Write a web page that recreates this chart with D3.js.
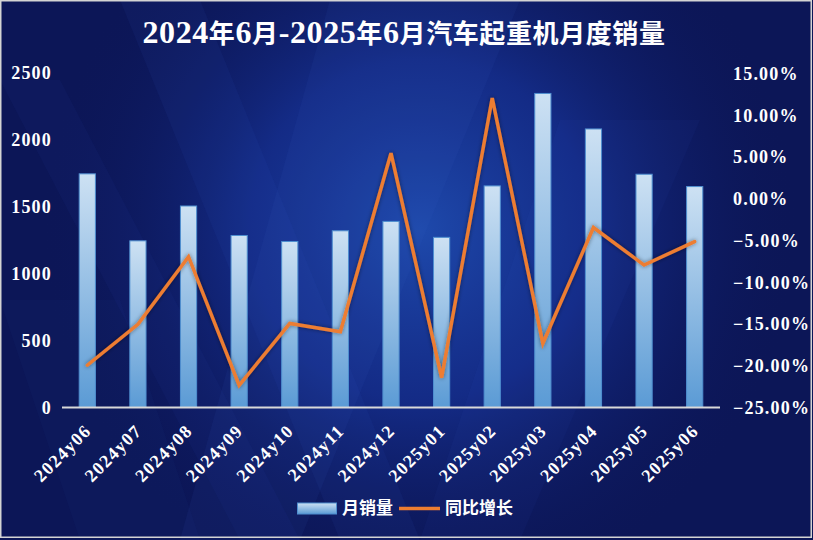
<!DOCTYPE html>
<html><head><meta charset="utf-8">
<script src="https://cdn.jsdelivr.net/npm/d3@7/dist/d3.min.js"></script>
<style>
html,body{margin:0;padding:0;background:#fff;}
svg{display:block;}
</style></head>
<body>
<svg id="chart" width="813" height="540"></svg>
<script>
const titleText = "2024年6月-2025年6月汽车起重机月度销量";
const categories = ["2024y06","2024y07","2024y08","2024y09","2024y10","2024y11","2024y12","2025y01","2025y02","2025y03","2025y04","2025y05","2025y06"];
const sales = [1740, 1240, 1500, 1280, 1235, 1315, 1385, 1266, 1650, 2340, 2075, 1737, 1645];
const yoy = [-20.0, -15.1, -7.0, -22.4, -15.0, -16.0, 5.4, -21.5, 12.0, -17.4, -3.5, -8.0, -5.2];
const leftTicks = [0, 500, 1000, 1500, 2000, 2500];
const rightTicks = [-25, -20, -15, -10, -5, 0, 5, 10, 15];
const legendNames = ["月销量", "同比增长"];

const W = 813, H = 540;
const svg = d3.select("#chart");
const defs = svg.append("defs");

// background
const rg = defs.append("radialGradient").attr("id","bgGlow")
  .attr("gradientUnits","userSpaceOnUse").attr("cx",420).attr("cy",230).attr("r",380);
rg.append("stop").attr("offset","0%").attr("stop-color","#1f4cb0").attr("stop-opacity",0.95);
rg.append("stop").attr("offset","45%").attr("stop-color","#17349a").attr("stop-opacity",0.7);
rg.append("stop").attr("offset","100%").attr("stop-color","#0c1657").attr("stop-opacity",0);

const barGrad = defs.append("linearGradient").attr("id","barGrad").attr("x1",0).attr("y1",0).attr("x2",0).attr("y2",1);
barGrad.append("stop").attr("offset","0%").attr("stop-color","#cde1f3");
barGrad.append("stop").attr("offset","100%").attr("stop-color","#5b9bd5");

const legGrad = defs.append("linearGradient").attr("id","legGrad").attr("x1",0).attr("y1",0).attr("x2",0).attr("y2",1);
legGrad.append("stop").attr("offset","0%").attr("stop-color","#cde1f3");
legGrad.append("stop").attr("offset","100%").attr("stop-color","#5b9bd5");

const glow = defs.append("filter").attr("id","lineGlow").attr("x","-10%").attr("y","-10%").attr("width","120%").attr("height","120%");
glow.append("feGaussianBlur").attr("in","SourceAlpha").attr("stdDeviation",2).attr("result","b");
glow.append("feFlood").attr("flood-color","#000814").attr("flood-opacity",0.45);
glow.append("feComposite").attr("in2","b").attr("operator","in").attr("result","s");
const fm = glow.append("feMerge");
fm.append("feMergeNode").attr("in","s");
fm.append("feMergeNode").attr("in","SourceGraphic");

svg.append("rect").attr("x",0).attr("y",0).attr("width",W).attr("height",H).attr("fill","#0c1657");
svg.append("rect").attr("x",0).attr("y",0).attr("width",W).attr("height",H).attr("fill","url(#bgGlow)");
// diagonal streaks
const streaks = [
  [[120,0],[200,0],[420,540],[340,540]],
  [[0,80],[60,80],[300,540],[240,540]],
  [[330,0],[520,0],[300,540],[180,540]],
  [[560,120],[700,120],[520,540],[420,540]],
  [[0,300],[120,300],[200,540],[80,540]]
];
svg.append("g").selectAll("polygon").data(streaks).join("polygon")
  .attr("points", d => d.map(p => p.join(",")).join(" "))
  .attr("fill","#3a6ad0").attr("opacity",(d,i)=> [0.07,0.05,0.08,0.05,0.04][i]);
svg.append("rect").attr("x",0.75).attr("y",0.75).attr("width",W-2.5).attr("height",H-3.5)
  .attr("fill","none").attr("stroke","#d4d4d4").attr("stroke-width",1.5);

// title
const title = svg.append("text").attr("x",404).attr("y",43).attr("text-anchor","middle")
  .attr("fill","#ffffff").attr("font-weight","bold").attr("letter-spacing","0.6px");
(titleText.match(/[\x00-\x7F]+|[^\x00-\x7F]+/g) || []).forEach(run => {
  const ascii = /^[\x00-\x7F]+$/.test(run);
  title.append("tspan").text(run)
    .attr("font-family", ascii ? "'Liberation Serif', serif" : "'Noto Sans CJK SC', sans-serif")
    .attr("font-size", ascii ? 32 : 26);
});

// scales
const x = d3.scaleBand().domain(categories).range([62,720]).paddingInner(0.68).paddingOuter(0.34);
const yL = d3.scaleLinear().domain([0,2500]).range([407,72]);
const yR = d3.scaleLinear().domain([-25,15]).range([407,73]);

const serif = "'Liberation Serif', 'Times New Roman', serif";

// left axis
const gl = svg.append("g").attr("transform","translate(52,0)")
  .call(d3.axisLeft(yL).tickValues(leftTicks).tickSize(0).tickPadding(0).tickFormat(d3.format("d")));
gl.select(".domain").remove();
gl.selectAll("text").attr("fill","#fff").attr("font-family",serif).attr("font-size",18)
  .attr("font-weight","bold").attr("letter-spacing","1.2px").attr("dy","0.35em");

// right axis
const gr = svg.append("g").attr("transform","translate(733,0)")
  .call(d3.axisRight(yR).tickValues(rightTicks).tickSize(0).tickPadding(0).tickFormat(d => d3.format(".2f")(d) + "%"));
gr.select(".domain").remove();
gr.selectAll("text").attr("fill","#fff").attr("font-family",serif).attr("font-size",18)
  .attr("font-weight","bold").attr("letter-spacing","1.2px").attr("dy","0.35em");

// bars
svg.append("g").selectAll("rect").data(categories).join("rect")
  .attr("x", d => x(d)).attr("width", x.bandwidth())
  .attr("y", (d,i) => yL(sales[i])).attr("height", (d,i) => yL(0) - yL(sales[i]))
  .attr("fill","url(#barGrad)").attr("stroke","#4f8fd0").attr("stroke-width",1);

// baseline
svg.append("line").attr("x1",62).attr("x2",720).attr("y1",yL(0)+0.5).attr("y2",yL(0)+0.5)
  .attr("stroke","#d9d9d9").attr("stroke-width",2);

// x labels
const gx = svg.append("g").attr("transform",`translate(0,${yL(0)})`)
  .call(d3.axisBottom(x).tickSize(0).tickPadding(0));
gx.select(".domain").remove();
gx.selectAll("text").attr("fill","#fff").attr("font-family",serif).attr("font-size",18)
  .attr("font-weight","bold").attr("letter-spacing","1.3px")
  .attr("text-anchor","end").attr("dy",0)
  .attr("transform","translate(5,25) rotate(-45)");

// line
const line = d3.line().x((d,i) => x(categories[i]) + x.bandwidth()/2).y(d => yR(d));
svg.append("path").datum(yoy).attr("d", line).attr("fill","none")
  .attr("stroke","#ed7d31").attr("stroke-width",3.5).attr("stroke-linejoin","miter")
  .attr("stroke-linecap","round").attr("filter","url(#lineGlow)");

// legend
const lg = svg.append("g");
lg.append("rect").attr("x",297.5).attr("y",503).attr("width",39).attr("height",11)
  .attr("fill","url(#legGrad)").attr("stroke","#4f8fd0").attr("stroke-width",1);
lg.append("text").attr("x",342).attr("y",514).text(legendNames[0])
  .attr("fill","#fff").attr("font-family","'Noto Sans CJK SC', sans-serif").attr("font-size",17).attr("font-weight","bold");
lg.append("line").attr("x1",399).attr("x2",440).attr("y1",508.5).attr("y2",508.5)
  .attr("stroke","#ed7d31").attr("stroke-width",3.5);
lg.append("text").attr("x",445).attr("y",514).text(legendNames[1])
  .attr("fill","#fff").attr("font-family","'Noto Sans CJK SC', sans-serif").attr("font-size",17).attr("font-weight","bold");
</script>
</body></html>
